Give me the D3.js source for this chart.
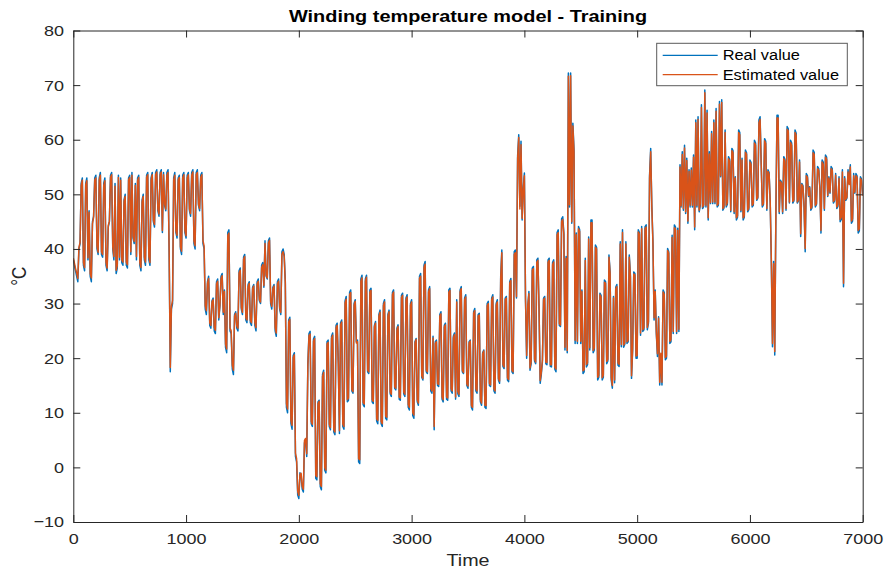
<!DOCTYPE html>
<html>
<head>
<meta charset="utf-8">
<title>Winding temperature model - Training</title>
<script src="https://cdn.jsdelivr.net/npm/d3@7"></script>
<style>
  html, body { margin: 0; padding: 0; background: #ffffff; }
  svg { display: block; font-family: "Liberation Sans", Arial, Helvetica, sans-serif; }
</style>
</head>
<body>
<svg id="chart" width="886" height="571"></svg>
<script>
// Winding temperature (°C), one reading every 10 time steps from 0 to 7000
const sampleStep = 10;

const realValue = [
  38, 37, 36, 35, 34, 40, 41, 52, 53, 37, 36, 52, 53, 38, 47, 35, 34, 45, 46, 53,
  53.5, 40, 39, 53, 54, 39, 38.5, 52, 53, 37, 36, 44, 45, 53.5, 54, 40, 38, 52, 35.5, 36.5,
  53.5, 38, 53, 37.5, 37, 49, 50, 37, 36.5, 53, 53.5, 39, 54, 42, 41, 52, 38, 53, 53.5, 37,
  36, 49, 50, 38, 37, 53.5, 54, 38, 37, 53, 54, 45, 44, 54, 54.5, 47, 46, 54, 54.5, 43,
  54, 48, 47, 54, 54.5, 39, 17.5, 29, 30, 53, 54, 43, 42, 53, 53.5, 40, 39, 53.5, 54, 43,
  42, 53.5, 54, 47, 46, 54, 54.5, 41, 40, 54, 54.5, 48, 47, 53.5, 54, 41, 40, 29, 28, 34,
  35, 26, 25.5, 30.5, 31, 25, 24.5, 34, 34.5, 27, 29.5, 35, 35.5, 28, 32.5, 22, 21, 43, 43.5, 25,
  24.5, 18, 17, 28, 28.5, 25.5, 25, 36, 36.5, 29, 28, 38.5, 39, 27, 26.5, 33.5, 34, 26.5, 26, 33,
  33.5, 26, 25, 34, 34.5, 30.5, 30, 37, 37.5, 33, 41.5, 35, 34.5, 41.5, 42, 30, 29, 33, 33.5, 25,
  24, 34, 34.5, 29, 28, 39.5, 40, 39, 34, 11, 10, 27, 27.5, 8, 7, 20.5, 21, 2, 1, -5,
  -5.7, -1, -1.5, -4, -4.5, 4.5, 5, 2, 19, 24.5, 24.9, 8, 7.5, 23.5, 24, -2, -2.3, 12, 12.3, -3.5,
  -4.1, 17, 17.8, -0.5, -1, 23, 23.3, 7.5, 6.9, 24, 24.6, 6.5, 6, 26, 26.4, 19, 6.2, 26.5, 27, 7.5,
  7, 30.5, 31.3, 12, 12.3, 32, 32.5, 14, 13.6, 30, 30.7, 23, 23.3, 1, 0.7, 34.5, 35.2, 11.5, 11.1, 34.5,
  35.2, 17.5, 17.2, 32.5, 32.8, 12, 11.7, 26, 26.7, 8.5, 8, 28, 28.8, 8, 7.5, 30, 30.7, 9, 8.7, 28,
  28.8, 13.5, 13, 32, 32.5, 14.5, 14.2, 25.5, 26.1, 12.5, 12.3, 31.5, 31.9, 13.5, 13, 31, 31.6, 11, 10.5, 30,
  30.7, 9.5, 9, 23, 23.6, 12, 11.4, 35, 35.5, 16.5, 16, 37, 37.7, 17.5, 17.2, 32.5, 33.1, 14, 13.6, 24,
  6.9, 23, 23.3, 15, 14.8, 28, 28.5, 12.5, 12, 26, 26.4, 12.5, 12.3, 32.5, 32.8, 14, 13.6, 24, 24.6, 12.5,
  30.7, 13.5, 13, 32.5, 33.1, 17.5, 17.2, 31, 31.6, 15, 14.5, 23, 23.3, 11, 10.5, 28.5, 29.1, 14, 13.6, 28,
  28.2, 12, 11.4, 21, 21.5, 11, 10.8, 30, 30.4, 15, 14.8, 31, 31.6, 14, 13.6, 30, 30.7, 16, 15.4, 35,
  39.8, 18.5, 18.1, 31, 31.3, 16, 15.7, 34, 34.6, 17.5, 17.2, 39.5, 39.8, 31, 57, 60.9, 47.8, 59.7, 45.3, 51.1,
  53.9, 30.7, 20, 29.4, 32.2, 17.8, 19, 36.5, 36.8, 19.5, 19, 38, 38.3, 29, 15.4, 17, 19.4, 31, 31.3, 19,
  18.8, 38, 38.3, 18.5, 18.4, 37.5, 38, 18, 17.5, 43, 43.5, 26, 25.8, 45.5, 45.9, 42.9, 21.5, 38.6, 21, 72.2,
  47.7, 72.2, 44.7, 63, 58.1, 22.7, 42.9, 22.7, 44.1, 43.5, 22.7, 32.5, 17.2, 17.5, 38.3, 18.4, 18.8, 42.2, 21.5, 45.3,
  45.3, 21, 21.5, 40.7, 40.3, 16, 16.5, 31.9, 31.5, 16, 16.5, 34.3, 34, 19, 19.5, 38.9, 35.8, 16, 14.5, 31.3,
  15.5, 33, 33.5, 18.7, 18.5, 41.3, 22.1, 43.5, 22, 22.5, 41.3, 22.7, 23, 38.9, 35.2, 16.3, 21.5, 35.8, 35.5, 20,
  20, 43.5, 43, 24.2, 44.1, 24.9, 25.2, 44.1, 44.4, 25.2, 26.4, 53.5, 58.4, 48, 41.3, 27, 32.5, 24.5, 20.3, 27.6,
  15.1, 20.6, 15.1, 32.5, 32, 19.7, 20, 40.1, 39.5, 22.7, 23, 42.5, 24.5, 44.4, 44, 24.5, 43.8, 24.9, 55.4, 47.7,
  57.8, 47.1, 59, 46.5, 56.6, 44.7, 54.5, 47.7, 54.8, 47.7, 57.2, 43.5, 63.6, 47.7, 64.2, 46.8, 48, 66.4, 47.4, 47.8,
  69.1, 47.7, 65.4, 45.3, 57.8, 48.3, 61.5, 48.3, 63.6, 48.3, 65.7, 47.7, 48, 67, 53.2, 67.3, 47.1, 47.5, 61.8, 47.7,
  48.2, 56.9, 56.4, 46.8, 58.4, 58, 46.5, 53.2, 45.3, 45.8, 61.8, 61.3, 46.8, 56.6, 45.3, 45.8, 58.1, 57.6, 46.8, 47.2,
  56.3, 55.8, 47.7, 48, 59.9, 59.4, 48.9, 49.3, 63.6, 64.2, 55.7, 47.7, 48.1, 60.2, 59.7, 47.1, 54.5, 54, 48.4, 37.4,
  22.1, 37.7, 20.6, 46, 64.5, 64.5, 46.5, 52.6, 52.2, 46.5, 56.9, 56.4, 47.1, 62.4, 62, 48.4, 59.9, 59.4, 48.4, 48.8,
  61.8, 61.2, 48.4, 48.8, 56.3, 42.3, 52, 51.6, 47.7, 39.5, 53.8, 53.4, 49.6, 51.4, 47.1, 47.5, 58.1, 57.7, 47.7, 48.1,
  55.1, 54.7, 51.4, 42.9, 56.3, 55.9, 47.1, 57.2, 56.8, 49.6, 53.2, 50.2, 55.1, 54.7, 48.4, 48.8, 53.8, 47.4, 47.8, 53.2,
  45, 45.4, 54.5, 33.1, 53.2, 48.9, 49.3, 54.5, 52, 55.4, 44.7, 45.1, 53.8, 50.2, 53.8, 53.4, 42.9, 43.3, 53.2, 52.8,
  49.9
];

const estimatedValue = [
  38.3, 37.4, 36.4, 35.6, 34.6, 40.3, 41.2, 51.6, 52.6, 37.5, 36.6, 51.7, 52.5, 38.4, 46.7, 35.5, 34.7, 44.6, 45.8, 52.6,
  53, 40.5, 39.4, 52.6, 53.5, 39.5, 39, 51.6, 52.5, 37.6, 36.5, 44.3, 45.1, 53.1, 53.6, 40.4, 38.6, 51.5, 36.1, 37,
  53.1, 38.5, 52.6, 38, 37.6, 48.7, 49.6, 37.6, 37.1, 52.6, 53.1, 39.5, 53.5, 42.3, 41.4, 51.6, 38.6, 52.5, 53.1, 37.5,
  36.6, 48.6, 49.6, 38.5, 37.6, 53.1, 53.6, 38.6, 37.5, 52.6, 53.6, 45.3, 44.5, 53.6, 54.1, 47.3, 46.4, 53.6, 54.1, 43.4,
  53.6, 48.2, 47.3, 53.5, 54, 39.6, 18.3, 29.5, 30.6, 52.6, 53.5, 43.3, 42.5, 52.6, 53.1, 40.4, 39.6, 53, 53.6, 43.4,
  42.4, 53, 53.6, 47.3, 46.5, 53.5, 54.1, 41.5, 40.6, 53.6, 54, 48.2, 47.4, 53.1, 53.6, 41.5, 40.5, 29.6, 28.7, 33.7,
  34.6, 26.5, 26, 30.3, 30.7, 25.6, 25.1, 33.6, 34.1, 27.4, 29.7, 34.6, 35.1, 28.4, 32.2, 22.6, 21.7, 42.5, 42.9, 25.5,
  25, 18.7, 17.8, 27.7, 28.2, 25.9, 25.5, 35.6, 36.1, 29.3, 28.4, 38.1, 38.6, 27.4, 27, 33.1, 33.7, 26.9, 26.5, 32.7,
  33.2, 26.5, 25.6, 33.6, 34.1, 30.7, 30.3, 36.6, 37.1, 33.3, 41, 35.2, 34.7, 41.1, 41.6, 30.4, 29.5, 32.7, 33.2, 25.6,
  24.6, 33.6, 34.1, 29.3, 28.4, 39, 39.5, 38.6, 33.7, 11.7, 10.7, 26.6, 27.1, 8.6, 7.7, 20.1, 20.6, 2.6, 1.6, -4.4,
  -5.1, -1.3, -1.1, -3.5, -4, 4.9, 5.3, 2.5, 18.6, 24.1, 24.4, 8.4, 7.9, 23.1, 23.6, -1.5, -1.7, 11.7, 12.1, -3,
  -3.5, 16.6, 17.4, 0, -0.5, 22.6, 22.9, 7.9, 7.3, 23.6, 24.2, 6.9, 6.5, 25.6, 26, 18.7, 6.7, 26.1, 26.6, 7.9,
  7.5, 30.1, 30.8, 12.4, 12.7, 31.6, 32, 14.3, 13.9, 29.7, 30.4, 22.8, 23, 1.6, 1.4, 34.1, 34.7, 11.9, 11.6, 34.1,
  34.8, 17.8, 17.5, 32.1, 32.4, 12.4, 12.1, 25.7, 26.4, 8.9, 8.6, 27.7, 28.4, 8.4, 8, 29.6, 30.3, 9.4, 9.2, 27.7,
  28.5, 13.8, 13.4, 31.6, 32.1, 14.8, 14.5, 25.2, 25.8, 12.9, 12.7, 31.1, 31.5, 13.8, 13.4, 30.6, 31.2, 11.5, 11, 29.7,
  30.3, 10, 9.6, 22.8, 23.4, 12.4, 11.8, 34.6, 35, 16.8, 16.3, 36.6, 37.2, 17.8, 17.5, 32.1, 32.7, 14.4, 14, 23.7,
  7.5, 22.7, 23, 15.3, 15.2, 27.7, 28.1, 12.9, 12.4, 25.7, 26.1, 12.9, 12.7, 32.1, 32.4, 14.4, 14, 23.7, 24.3, 12.9,
  30.3, 13.9, 13.4, 32.1, 32.7, 17.8, 17.4, 30.7, 31.2, 15.3, 14.9, 22.8, 23.1, 11.4, 11, 28.2, 28.7, 14.4, 14, 27.7,
  27.9, 12.4, 11.8, 20.8, 21.3, 11.4, 11.3, 29.6, 30, 15.4, 15.1, 30.7, 31.2, 14.4, 14, 29.7, 30.3, 16.3, 15.8, 34.6,
  39.3, 18.8, 18.4, 30.7, 31, 16.4, 16.1, 33.7, 34.2, 17.8, 17.5, 39, 39.3, 31.3, 56.5, 60.4, 47.3, 59.1, 45.6, 50.8,
  53.4, 30.9, 20.5, 29.6, 31.8, 18.2, 19.4, 36.1, 36.4, 19.8, 19.3, 37.6, 37.9, 29.2, 15.9, 17.4, 19.7, 30.7, 31, 19.3,
  19.2, 37.6, 37.9, 18.8, 18.8, 37.1, 37.6, 18.4, 18, 42.6, 43, 26.3, 26.1, 45, 45.4, 42.6, 22, 38.3, 21.4, 71.6,
  48.1, 71.7, 45, 62.5, 57.8, 23.3, 42.6, 23.1, 43.7, 43.2, 23.1, 32.2, 17.7, 17.9, 37.9, 18.8, 19.2, 41.8, 21.9, 44.8,
  44.8, 21.4, 21.9, 40.3, 40, 16.5, 16.9, 31.6, 31.2, 16.4, 16.9, 33.9, 33.7, 19.4, 19.8, 38.5, 35.5, 16.5, 15, 31,
  16, 32.7, 33.1, 19.1, 18.9, 40.9, 22.5, 43, 22.4, 22.8, 40.9, 23, 23.3, 38.5, 34.9, 16.8, 21.8, 35.4, 35.2, 20.4,
  20.5, 43.1, 42.7, 24.6, 43.7, 25.2, 25.6, 43.7, 44, 25.6, 26.7, 53, 57.8, 47.7, 41, 27.4, 32.2, 24.8, 20.8, 27.3,
  15.6, 20.9, 15.6, 32.1, 31.7, 20.1, 20.4, 39.7, 39.2, 23.1, 23.4, 42.1, 24.9, 43.9, 43.6, 24.9, 43.4, 25.3, 55, 47.9,
  57.3, 47.4, 58.5, 46.8, 56.2, 45.1, 54.2, 48, 54.4, 48, 56.8, 44, 63.1, 48, 63.7, 47.1, 48.3, 65.9, 47.7, 48.1,
  68.6, 48, 64.9, 45.7, 57.4, 48.5, 61.1, 48.6, 63.1, 48.6, 65.2, 48, 48.3, 66.5, 53.4, 66.8, 47.4, 47.8, 61.3, 48,
  48.5, 56.5, 56.1, 47.1, 58, 57.6, 46.8, 53, 45.7, 46.1, 61.3, 60.9, 47.1, 56.3, 45.7, 46.1, 57.7, 57.3, 47.1, 47.5,
  55.9, 55.5, 48, 48.3, 59.4, 59, 49.1, 49.5, 63.1, 63.7, 55.4, 48, 48.4, 59.8, 59.3, 47.4, 54.2, 53.7, 48.6, 37.8,
  22.7, 37.3, 21.2, 46.3, 64, 64, 46.8, 52.3, 52, 46.8, 56.5, 56.1, 47.4, 61.9, 61.6, 48.6, 59.5, 59, 48.7, 49,
  61.3, 60.8, 48.6, 49, 55.9, 42.8, 51.8, 51.4, 48, 40.1, 53.4, 53.1, 49.8, 51.2, 47.4, 47.8, 57.6, 57.3, 48, 48.3,
  54.7, 54.4, 51.2, 43.4, 55.9, 55.5, 47.4, 56.8, 56.4, 49.8, 53, 50.4, 54.7, 54.4, 48.7, 49, 53.5, 47.7, 48.1, 52.9,
  45.4, 45.8, 54.1, 33.7, 52.9, 49.1, 49.5, 54.1, 51.8, 55, 45.1, 45.5, 53.4, 50.4, 53.4, 53.1, 43.4, 43.7, 52.9, 52.5,
  49.7
];

const xTicks = [0, 1000, 2000, 3000, 4000, 5000, 6000, 7000];
const yTicks = [-10, 0, 10, 20, 30, 40, 50, 60, 70, 80];
const seriesNames = ["Real value", "Estimated value"];
const seriesColors = ["#0072BD", "#D95319"];

const titleText = "Winding temperature model - Training";
const xLabelText = "Time";
const yLabelText = "°C";

// ---- layout ----
const plot = { left: 73.3, right: 862.7, top: 30.5, bottom: 522 };
const axisColor = "#262626";
const stretch = 1.16;          // horizontal stretch applied to all text
const tickLen = 7;

const svg = d3.select("#chart");

const x = d3.scaleLinear().domain([0, 7000]).range([plot.left, plot.right]);
const y = d3.scaleLinear().domain([-10, 80]).range([plot.bottom, plot.top]);

// clip the traces to the axes box
svg.append("defs").append("clipPath").attr("id", "plotClip")
  .append("rect")
  .attr("x", plot.left).attr("y", plot.top)
  .attr("width", plot.right - plot.left).attr("height", plot.bottom - plot.top);

const line = d3.line()
  .x((d, i) => x(i * sampleStep))
  .y(d => y(d));

const traces = svg.append("g").attr("clip-path", "url(#plotClip)");
const traceWidths = [1.5, 1.5];
[realValue, estimatedValue].forEach((series, k) => {
  traces.append("path")
    .datum(series)
    .attr("fill", "none")
    .attr("stroke", seriesColors[k])
    .attr("stroke-width", traceWidths[k])
    .attr("stroke-linejoin", "round")
    .attr("d", line);
});

// ---- axes (ticks point inward, box on all four sides) ----
function styleAxis(g) {
  g.select(".domain").attr("stroke", axisColor).attr("stroke-width", 1);
  g.selectAll(".tick line").attr("stroke", axisColor).attr("stroke-width", 1);
  g.selectAll(".tick text")
    .attr("fill", axisColor)
    .attr("font-size", 15.5)
    .attr("font-family", "'Liberation Sans', Arial, sans-serif");
}

const gx = svg.append("g")
  .attr("transform", `translate(0,${plot.bottom})`)
  .call(d3.axisBottom(x).tickValues(xTicks).tickFormat(d3.format("d"))
        .tickSizeInner(-tickLen).tickSizeOuter(0).tickPadding(11));
styleAxis(gx);
gx.selectAll(".tick text").attr("transform", `scale(${stretch},1)`);

const gy = svg.append("g")
  .attr("transform", `translate(${plot.left},0)`)
  .call(d3.axisLeft(y).tickValues(yTicks).tickFormat(d3.format("d"))
        .tickSizeInner(-tickLen).tickSizeOuter(0).tickPadding(8));
styleAxis(gy);
gy.selectAll(".tick text").attr("transform", `scale(${stretch},1)`);

const gxTop = svg.append("g")
  .attr("transform", `translate(0,${plot.top})`)
  .call(d3.axisTop(x).tickValues(xTicks).tickFormat("")
        .tickSizeInner(-tickLen).tickSizeOuter(0));
styleAxis(gxTop);

const gyRight = svg.append("g")
  .attr("transform", `translate(${plot.right},0)`)
  .call(d3.axisRight(y).tickValues(yTicks).tickFormat("")
        .tickSizeInner(-tickLen).tickSizeOuter(0));
styleAxis(gyRight);

// ---- title and axis labels ----
const cx = (plot.left + plot.right) / 2;

svg.append("text")
  .attr("transform", `translate(${cx},22) scale(1.23,1)`)
  .attr("text-anchor", "middle")
  .attr("font-size", 16.2)
  .attr("font-weight", "bold")
  .attr("fill", "#000")
  .text(titleText);

svg.append("text")
  .attr("transform", `translate(${cx},566) scale(${stretch},1)`)
  .attr("text-anchor", "middle")
  .attr("font-size", 17)
  .attr("fill", axisColor)
  .text(xLabelText);

svg.append("text")
  .attr("transform", `translate(26,${(plot.top + plot.bottom) / 2}) rotate(-90) scale(1,${stretch})`)
  .attr("text-anchor", "middle")
  .attr("font-size", 17)
  .attr("fill", axisColor)
  .text(yLabelText);

// ---- legend ----
const legend = { x: 656.7, y: 43.3, w: 190.6, h: 42.4, rowGap: 19.3, first: 12 };
const lg = svg.append("g");
lg.append("rect")
  .attr("x", legend.x).attr("y", legend.y)
  .attr("width", legend.w).attr("height", legend.h)
  .attr("fill", "#ffffff")
  .attr("stroke", "#5a5a5a")
  .attr("stroke-width", 1);

seriesNames.forEach((name, k) => {
  const ry = legend.y + legend.first + k * legend.rowGap;
  lg.append("line")
    .attr("x1", legend.x + 6).attr("x2", legend.x + 61)
    .attr("y1", ry).attr("y2", ry)
    .attr("stroke", seriesColors[k])
    .attr("stroke-width", 1.3);
  lg.append("text")
    .attr("transform", `translate(${legend.x + 66},${ry}) scale(1.12,1)`)
    .attr("dy", "0.35em")
    .attr("font-size", 14.6)
    .attr("fill", "#000")
    .text(name);
});
</script>
</body>
</html>
